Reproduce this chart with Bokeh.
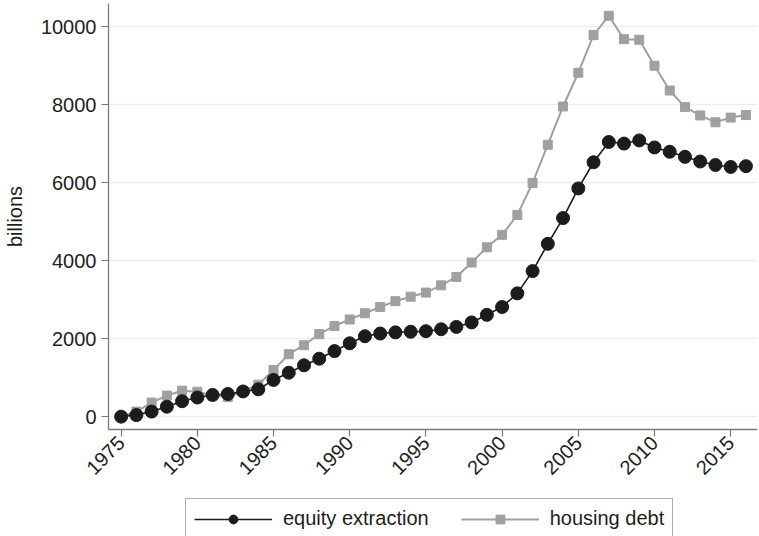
import math
from bokeh.plotting import figure
from bokeh.layouts import column
from bokeh.models import (ColumnDataSource, FixedTicker, Legend, LegendItem, Range1d)
from bokeh.embed import file_html
from bokeh.resources import INLINE

# Annual series, billions of dollars
years = list(range(1975, 2017))
equity_extraction = [
    0, 40, 130, 255, 395, 490, 555, 580, 645, 700,
    940, 1125, 1315, 1485, 1680, 1880, 2060, 2130, 2160, 2175,
    2190, 2240, 2300, 2415, 2610, 2810, 3160, 3730, 4430, 5090,
    5850, 6520, 7040, 7000, 7080, 6900, 6790, 6660, 6540, 6450, 6400, 6420,
]
housing_debt = [
    0, 130, 360, 540, 665, 640, 540, 500, 655, 820,
    1195, 1600, 1830, 2115, 2325, 2490, 2650, 2810, 2960, 3075,
    3180, 3365, 3580, 3950, 4340, 4660, 5170, 5990, 6970, 7950,
    8815, 9780, 10275, 9675, 9660, 8995, 8360, 7935, 7720, 7545, 7665, 7730,
]
series_labels = ["equity extraction", "housing debt"]
x_ticks = [1975, 1980, 1985, 1990, 1995, 2000, 2005, 2010, 2015]
y_ticks = [0, 2000, 4000, 6000, 8000, 10000]

FONT = "Liberation Sans"
FSIZE = "20px"
TEXT = "#1e1e1e"
AXIS = "#7a7a7a"
DARK = "#1c1c1c"
GREY = "#a0a0a0"

src = ColumnDataSource(dict(year=years, equity=equity_extraction, housing=housing_debt))

p = figure(width=759, height=498, output_backend="svg", toolbar_location=None,
           x_range=Range1d(1974.17, 2016.76), y_range=Range1d(-330, 10590),
           min_border_left=102, min_border_right=2, min_border_top=3,
           min_border_bottom=69)
p.outline_line_color = None
p.background_fill_color = "white"
p.border_fill_color = "white"

# Grid: horizontal only
p.xgrid.grid_line_color = None
p.ygrid.grid_line_color = "#e6eff1"
p.ygrid.grid_line_width = 1.6

for ax in (p.xaxis[0], p.yaxis[0]):
    ax.axis_line_color = AXIS
    ax.axis_line_width = 1.3
    ax.major_tick_line_color = AXIS
    ax.major_tick_line_width = 1.2
    ax.major_tick_out = 7
    ax.major_tick_in = 0
    ax.minor_tick_line_color = None
    ax.major_label_text_font = FONT
    ax.major_label_text_font_size = FSIZE
    ax.major_label_text_color = TEXT

p.xaxis.ticker = FixedTicker(ticks=x_ticks)
p.yaxis.ticker = FixedTicker(ticks=y_ticks)
p.xaxis.major_label_orientation = math.pi / 4
p.xaxis.major_label_standoff = 3
p.yaxis.major_label_orientation = "horizontal"
p.yaxis.major_label_standoff = 5
p.yaxis.axis_label = "billions"
p.yaxis.axis_label_text_font = FONT
p.yaxis.axis_label_text_font_size = FSIZE
p.yaxis.axis_label_text_font_style = "normal"
p.yaxis.axis_label_text_color = TEXT
p.yaxis.axis_label_standoff = 12

def draw_series(fig):
    """Housing debt (grey squares) first, equity extraction (black dots) on top."""
    hl = fig.line("year", "housing", source=src, line_color=GREY, line_width=2)
    hs = fig.scatter("year", "housing", source=src, marker="square", size=9,
                     fill_color=GREY, line_color=GREY)
    el = fig.line("year", "equity", source=src, line_color=DARK, line_width=1.6)
    es = fig.scatter("year", "equity", source=src, marker="circle", size=13,
                     fill_color=DARK, line_color=DARK)
    return (el, es), (hl, hs)

draw_series(p)

# Legend strip underneath the chart; its own copies of the series lie
# outside its ranges, so only the legend box is seen
lg = figure(width=759, height=38, output_backend="svg", toolbar_location=None,
            x_range=Range1d(0, 1), y_range=Range1d(0, 1),
            x_axis_type=None, y_axis_type=None,
            min_border_left=0, min_border_right=0, min_border_top=0,
            min_border_bottom=0)
lg.grid.visible = False
lg.outline_line_color = None
lg.border_fill_color = "white"
(e_line, e_dot), (h_line, h_dot) = draw_series(lg)

legend = Legend(items=[
    LegendItem(label=series_labels[0], renderers=[e_line, e_dot]),
    LegendItem(label=series_labels[1], renderers=[h_line, h_dot]),
], orientation="horizontal", location=(77, -3))
legend.label_text_font = FONT
legend.label_text_font_size = FSIZE
legend.label_text_color = TEXT
legend.glyph_width = 78
legend.glyph_height = 22
legend.label_standoff = 11
legend.spacing = 32
legend.padding = 8
legend.margin = 0
legend.border_line_color = "#5a5a5a"
legend.border_line_width = 1.2
legend.background_fill_color = "white"
lg.add_layout(legend)

layout = column(p, lg, spacing=0)
open("out.html", "w").write(file_html(layout, INLINE))
